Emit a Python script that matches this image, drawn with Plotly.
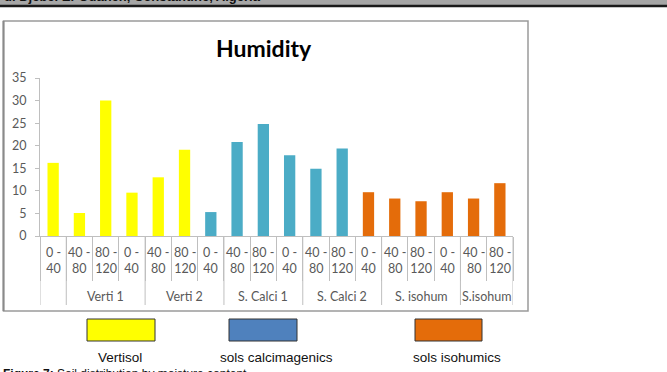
import plotly.graph_objects as go

# ---------------- data ----------------
depth_labels = ["0 -<br>40", "40 -<br>80", "80 -<br>120", "0 -<br>40", "40 -<br>80", "80 -<br>120",
                "0 -<br>40", "40 -<br>80", "80 -<br>120", "0 -<br>40", "40 -<br>80", "80 -<br>120",
                "0 -<br>40", "40 -<br>80", "80 -<br>120", "0 -<br>40", "40 -<br>80", "80 -<br>120"]
humidity = [16.2, 5.1, 30.0, 9.6, 13.0, 19.1,
            5.3, 20.8, 24.8, 17.9, 14.9, 19.4,
            9.7, 8.3, 7.7, 9.7, 8.3, 11.7]
soil_type = ["Vertisol"] * 6 + ["sols calcimagenics"] * 6 + ["sols isohumics"] * 6
group_labels = ["", "Verti 1", "Verti 2", "S. Calci 1", "S. Calci 2", "S. isohum", "S.isohum"]
group_sizes = [1, 3, 3, 3, 3, 3, 2]
legend_labels = ["Vertisol", "sols calcimagenics", "sols isohumics"]
y_ticks = [0, 5, 10, 15, 20, 25, 30, 35]

# ---------------- styles ----------------
bar_colors = {"Vertisol": "#FFFF00", "sols calcimagenics": "#4BACC6", "sols isohumics": "#E46C0A"}
legend_colors = {"Vertisol": "#FFFF00", "sols calcimagenics": "#4F81BD", "sols isohumics": "#E46C0A"}
AXIS = "#BFBFBF"
TXT = "#595959"
FONT = "Lato"

W, H = 667, 372
L, R, T, B = 40, 154, 78, 136
PW, PH = W - L - R, H - T - B


def px_x(px):
    return (px - L) / PW


def px_y(py):
    return (H - B - py) / PH


fig = go.Figure()
n = len(humidity)
for st in legend_labels:
    idx = [i for i in range(n) if soil_type[i] == st]
    fig.add_trace(go.Bar(
        x=idx, y=[humidity[i] for i in idx], width=0.43,
        marker=dict(color=bar_colors[st], line=dict(width=0)),
        name=st, showlegend=False, hoverinfo="y"))

shapes = []
annotations = []

# header band
shapes.append(dict(type="rect", xref="paper", yref="paper", x0=px_x(0), x1=px_x(W), y0=px_y(5), y1=px_y(-2),
                   fillcolor="#A6A6A6", line=dict(width=0), layer="below"))
shapes.append(dict(type="line", xref="paper", yref="paper", x0=px_x(0), x1=px_x(W), y0=px_y(6), y1=px_y(6),
                   line=dict(color="#1A1A1A", width=2.5)))
annotations.append(dict(text="<b>u. Djebel El-Ouahch, Constantine, Algeria</b>", xref="paper", yref="paper",
                        x=px_x(2), y=px_y(6.5), xanchor="left", yanchor="bottom", showarrow=False,
                        font=dict(family="Liberation Sans", size=13, color="#111")))

# chart frame
shapes.append(dict(type="rect", xref="paper", yref="paper", x0=px_x(3.5), x1=px_x(528), y0=px_y(311), y1=px_y(21),
                   line=dict(color="#9A9A9A", width=1.5), layer="below"))
shapes.append(dict(type="line", xref="paper", yref="paper", x0=px_x(3.5), x1=px_x(3.5), y0=px_y(311), y1=px_y(21),
                   line=dict(color="#8A8A8A", width=2)))

# title
annotations.append(dict(text="<b>Humidity</b>", xref="paper", yref="paper", x=px_x(264), y=px_y(48),
                        xanchor="center", yanchor="middle", showarrow=False,
                        font=dict(family=FONT, size=23, color="#000000")))

# depth labels
for i, lab in enumerate(depth_labels):
    annotations.append(dict(text=lab, x=i, xref="x", yref="paper", y=px_y(260.5), xanchor="center",
                            yanchor="middle", showarrow=False, font=dict(family=FONT, size=12.5, color=TXT)))

# group labels + dividers
start = 0
bounds = [start - 0.5]
for g, sz in zip(group_labels, group_sizes):
    mid = start + (sz - 1) / 2
    if g:
        annotations.append(dict(text=g, x=mid, xref="x", yref="paper", y=px_y(296), xanchor="center",
                                yanchor="middle", showarrow=False, font=dict(family=FONT, size=12.5, color=TXT)))
    start += sz
    bounds.append(start - 0.5)
for b in bounds:
    shapes.append(dict(type="line", xref="x", yref="paper", x0=b, x1=b, y0=0, y1=px_y(305),
                       line=dict(color=AXIS, width=1)))

# legend boxes (below chart frame)
box_x = [(87, 155), (229, 297), (415, 482)]
label_cx = [119.5, 276, 457]
for lab, (x0, x1), cx in zip(legend_labels, box_x, label_cx):
    shapes.append(dict(type="rect", xref="paper", yref="paper", x0=px_x(x0), x1=px_x(x1),
                       y0=px_y(341), y1=px_y(319), fillcolor=legend_colors[lab],
                       line=dict(color="#333333", width=1)))
    annotations.append(dict(text=lab, xref="paper", yref="paper", x=px_x(cx), y=px_y(357),
                            xanchor="center", yanchor="middle", showarrow=False,
                            font=dict(family="Liberation Sans Narrow, Liberation Sans", size=13.5, color="#111")))

# caption (cut at bottom)
annotations.append(dict(text="<b>Figure 7:</b> Soil distribution by moisture content", xref="paper", yref="paper",
                        x=px_x(1), y=px_y(365), xanchor="left", yanchor="top", showarrow=False,
                        font=dict(family="Liberation Sans", size=12, color="#111")))

fig.update_layout(
    width=W, height=H,
    margin=dict(l=L, r=R, t=T, b=B, pad=0),
    paper_bgcolor="white", plot_bgcolor="white",
    bargap=0.5,
    shapes=shapes, annotations=annotations,
    xaxis=dict(range=[-0.5, n - 0.5], showgrid=False, zeroline=False, showline=True, linecolor=AXIS,
               linewidth=1, tickmode="array", tickvals=[i - 0.5 for i in range(n + 1)], ticktext=[""] * (n + 1),
               ticks="outside", ticklen=44, tickcolor=AXIS, tickwidth=1, showticklabels=False, fixedrange=True),
    yaxis=dict(range=[0, 35], tickmode="array", tickvals=y_ticks, showgrid=False, zeroline=False,
               showline=True, linecolor=AXIS, linewidth=1, ticks="outside", ticklen=4, tickcolor=AXIS,
               ticklabelstandoff=6, tickfont=dict(family=FONT, size=12.5, color=TXT), fixedrange=True),
    showlegend=False,
)

fig.write_html("out.html")
